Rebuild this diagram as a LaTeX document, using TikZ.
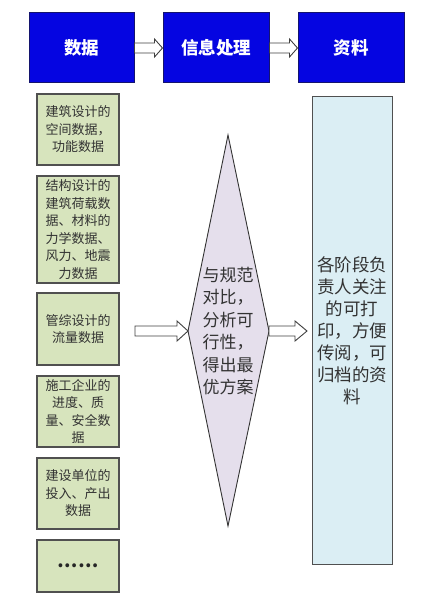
\documentclass[tikz,border=0pt]{standalone}
\usepackage{fontspec}
\setmainfont{Noto Sans CJK SC}
\usetikzlibrary{calc}
\definecolor{topblue}{RGB}{5,5,225}
\definecolor{topedge}{RGB}{20,20,110}
\definecolor{greenfill}{RGB}{215,228,189}
\definecolor{boxedge}{RGB}{80,80,80}
\definecolor{diafill}{RGB}{229,223,236}
\definecolor{rightfill}{RGB}{219,238,244}
\definecolor{txt}{RGB}{50,50,50}
\tikzset{
  topbox/.style={draw=topedge, line width=1pt, fill=topblue, text=white, font=\fontsize{17.5}{20}\selectfont\bfseries, minimum height=70pt, inner sep=0pt},
  greenbox/.style={draw=boxedge, line width=1.2pt, fill=greenfill, text=txt, minimum width=82pt, inner sep=0pt, align=center, font=\fontsize{13}{17.5}\selectfont},
  rightbox/.style={draw=boxedge, line width=1pt, fill=rightfill, text=txt, minimum width=80pt, minimum height=467pt, inner sep=0pt, align=center, font=\fontsize{17.5}{22}\selectfont},
  diashape/.style={draw=black!80, line width=0.9pt, fill=diafill},
  diatext/.style={text=txt, align=center, inner sep=0pt, font=\fontsize{17}{22.4}\selectfont},
  arrowbox/.style={draw=black!75, line width=0.9pt, fill=white, line join=miter}
}
\newcommand\myblockarrow[5]{\draw[arrowbox] let \p1=(#1), \p2=(#2) in
  (\x1,{\y1+#3pt}) -- ({\x2-#5pt},{\y1+#3pt}) -- ({\x2-#5pt},{\y1+#4pt}) -- (\x2,\y1)
  -- ({\x2-#5pt},{\y1-#4pt}) -- ({\x2-#5pt},{\y1-#3pt}) -- (\x1,{\y1-#3pt}) -- cycle;}
\begin{document}
\begin{tikzpicture}[x=1pt,y=-1pt]
\useasboundingbox (0,0) rectangle (438,599);
% top row
\node[topbox, minimum width=105pt] (sj) at (81.5,48) {数据};
\node[topbox, minimum width=106pt] (xx) at (216,48) {信息处理};
\node[topbox, minimum width=106pt] (zl) at (351,48) {资料};
\myblockarrow{sj.east}{xx.west}{5}{9}{8}
\myblockarrow{xx.east}{zl.west}{5}{9}{8}
% left column
\node[greenbox, minimum height=71pt] (g1) at (78,129.5) {建筑设计的\\空间数据，\\功能数据};
\node[greenbox, minimum height=107pt] (g2) at (78,229.5) {结构设计的\\建筑荷载数\\据、材料的\\力学数据、\\风力、地震\\力数据};
\node[greenbox, minimum height=72pt] (g3) at (78,329) {管综设计的\\流量数据};
\node[greenbox, minimum height=71pt] (g4) at (78,411.5) {施工企业的\\进度、质\\量、安全数\\据};
\node[greenbox, minimum height=71pt] (g5) at (78,493.5) {建设单位的\\投入、产出\\数据};
\node[greenbox, minimum height=52pt, font=\fontsize{18}{20}\selectfont\bfseries, text=black!85] (g6) at (78,566) {……};
% diamond
\coordinate (dt) at (228,135);
\coordinate (dl) at (188,331);
\coordinate (db) at (228,526);
\coordinate (dr) at (269,331);
\draw[diashape] (dt) -- (dr) -- (db) -- (dl) -- cycle;
\node[diatext] (dia) at (228,331) {与规范\\对比，\\分析可\\行性，\\得出最\\优方案};
% right box
\node[rightbox] (rb) at (352,330.5) {各阶段负\\责人关注\\的可打\\印，方便\\传阅，可\\归档的资\\料};
% middle arrows
\coordinate (la) at (135,331);
\coordinate (ra) at (307,331);
\myblockarrow{la}{dl}{5}{10}{11}
\myblockarrow{dr}{ra}{5}{10}{12}
\end{tikzpicture}
\end{document}
